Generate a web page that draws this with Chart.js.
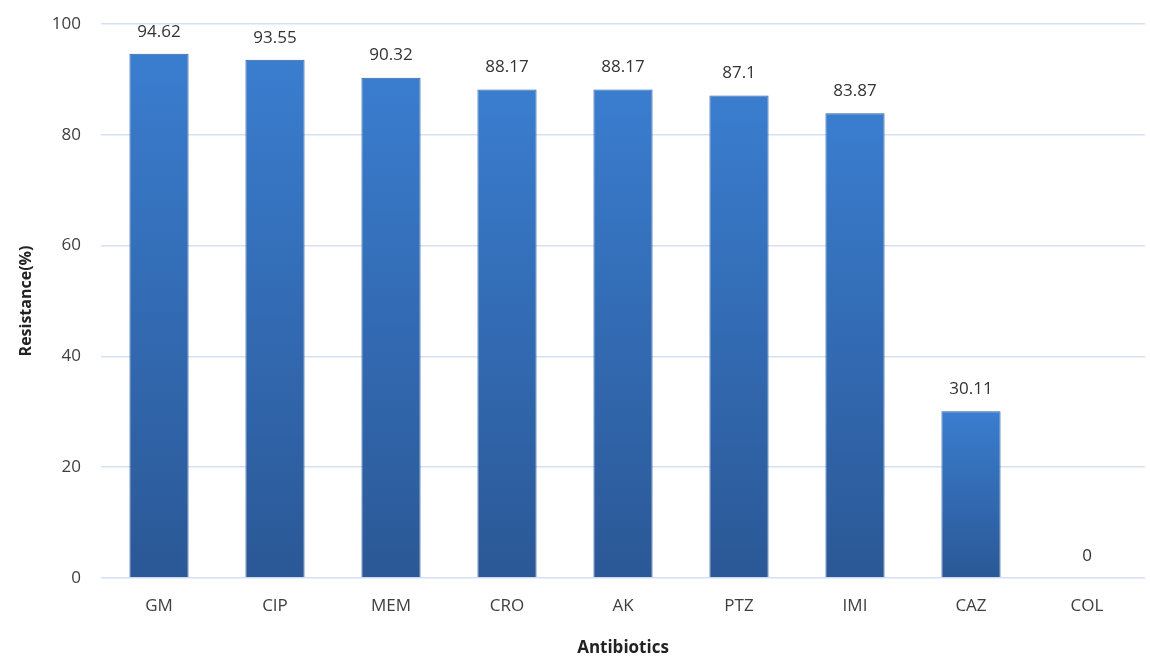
<!DOCTYPE html>
<html>
<head>
<meta charset="utf-8">
<script src="https://cdn.jsdelivr.net/npm/chart.js@4.4.1/dist/chart.umd.min.js"></script>
<style>
  html, body { margin: 0; padding: 0; background: #fff; }
  #wrap { width: 1150px; height: 658px; }
</style>
</head>
<body>
<div id="wrap"><canvas id="resChart" width="1150" height="658"></canvas></div>
<script>
// Datos del gráfico
const antibiotics = ['GM', 'CIP', 'MEM', 'CRO', 'AK', 'PTZ', 'IMI', 'CAZ', 'COL'];
const resistance = [94.62, 93.55, 90.32, 88.17, 88.17, 87.1, 83.87, 30.11, 0];
const yTicks = [0, 20, 40, 60, 80, 100];

const fontFamily = "'Open Sans', 'Noto Sans', sans-serif";

// Degradado por barra (claro arriba, oscuro abajo)
function barGradient(context) {
  const chart = context.chart;
  const area = chart.chartArea;
  if (!area) return '#3470bd';
  const yScale = chart.scales.y;
  const v = context.raw;
  const top = yScale.getPixelForValue(v);
  const bottom = yScale.getPixelForValue(0);
  if (bottom - top < 1) return '#3470bd';
  const g = chart.ctx.createLinearGradient(0, top, 0, bottom);
  g.addColorStop(0, '#3a7dcf');
  g.addColorStop(1, '#2b5896');
  return g;
}

// Etiquetas de valor encima de cada barra
const valueLabels = {
  id: 'valueLabels',
  afterDatasetsDraw(chart) {
    const { ctx } = chart;
    const meta = chart.getDatasetMeta(0);
    ctx.save();
    ctx.font = '17px ' + fontFamily;
    ctx.fillStyle = '#333333';
    ctx.textAlign = 'center';
    ctx.textBaseline = 'middle';
    meta.data.forEach((bar, i) => {
      ctx.fillText(String(resistance[i]), bar.x, bar.y - 22);
    });
    ctx.restore();
  }
};

const ctx = document.getElementById('resChart').getContext('2d');
const resChart = new Chart(ctx, {
  type: 'bar',
  data: {
    labels: antibiotics,
    datasets: [{
      label: 'Resistance (%)',
      data: resistance,
      backgroundColor: barGradient,
      borderColor: '#2c5ea3',
      borderWidth: 1,
      categoryPercentage: 1,
      barPercentage: 0.51
    }]
  },
  options: {
    responsive: false,
    animation: false,
    layout: { padding: { top: 24, right: 5, left: 17, bottom: 0 } },
    plugins: {
      legend: { display: false },
      tooltip: { enabled: false }
    },
    scales: {
      y: {
        min: 0,
        max: 100,
        afterBuildTicks(scale) {
          scale.ticks = yTicks.map(v => ({ value: v }));
        },
        afterFit(scale) {
          scale.width = 84;
          scale.paddingTop = 0;
          scale.paddingBottom = 0;
        },
        grid: { color: '#d5e1f3', lineWidth: 1.5, drawTicks: false },
        border: { display: false },
        ticks: {
          padding: 20,
          color: '#404040',
          font: { family: fontFamily, size: 17 }
        },
        title: {
          display: true,
          text: 'Resistance(%)',
          color: '#222',
          font: { family: fontFamily, size: 16, weight: 'bold' },
          padding: { top: 0, bottom: 10 }
        }
      },
      x: {
        afterFit(scale) { scale.height = 80; },
        grid: { display: false, drawTicks: false },
        border: { display: false },
        ticks: {
          padding: 18,
          color: '#404040',
          font: { family: fontFamily, size: 17 }
        },
        title: {
          display: true,
          text: 'Antibiotics',
          color: '#222',
          font: { family: fontFamily, size: 17, weight: 'bold' },
          padding: { top: 10, bottom: 0 }
        }
      }
    }
  },
  plugins: [valueLabels]
});
</script>
</body>
</html>
